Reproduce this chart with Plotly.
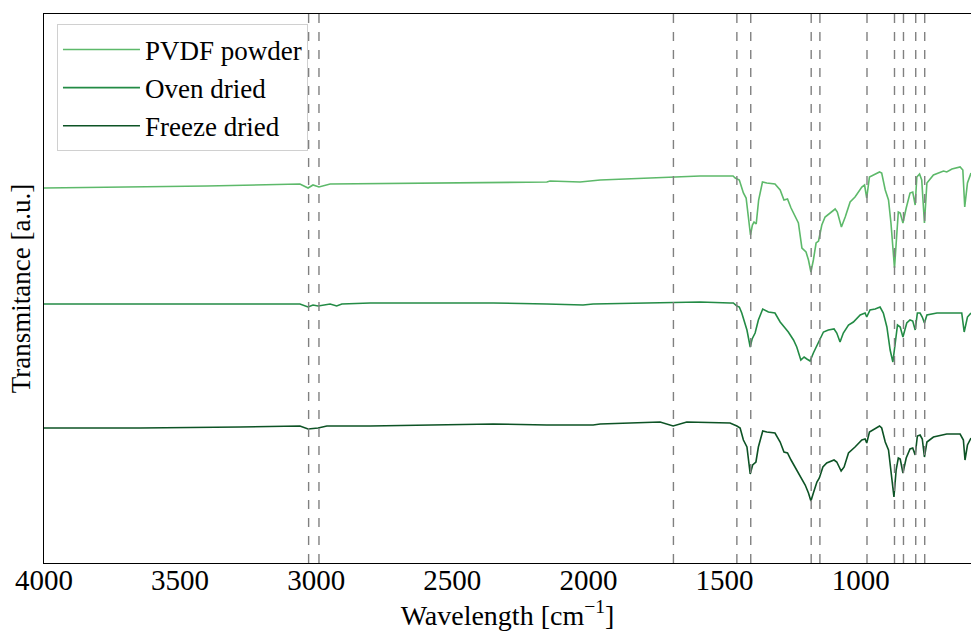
import plotly.graph_objects as go

# Wavenumbers [cm^-1] and transmittance [a.u.]
wn_pvdf = [4000, 3647, 3402, 3060, 3030, 3012, 2990, 2949, 2350, 2153, 2141, 2031, 1957, 1689, 1590,
           1469, 1461, 1446, 1431, 1421, 1414, 1405, 1398, 1392, 1384, 1375, 1361, 1345, 1315, 1296,
           1282, 1269, 1256, 1241, 1229, 1216, 1201, 1192, 1183, 1174, 1164, 1155, 1143, 1131, 1112,
           1094, 1086, 1071, 1057, 1039, 1021, 996, 986, 978, 968, 953, 931, 923, 910, 898, 889, 876,
           867, 862, 855, 845, 833, 819, 809, 800, 794, 784, 776, 766, 757, 733, 696, 684, 665, 635,
           625, 618, 608, 595]
t_pvdf = [3.75, 3.76, 3.77, 3.79, 3.75, 3.78, 3.76, 3.79, 3.81, 3.81, 3.82, 3.81, 3.83, 3.86, 3.87,
          3.87, 3.85, 3.83, 3.70, 3.65, 3.50, 3.28, 3.38, 3.41, 3.39, 3.63, 3.81, 3.80, 3.79, 3.73,
          3.63, 3.64, 3.55, 3.46, 3.40, 3.15, 3.11, 3.03, 2.91, 3.03, 3.20, 3.22, 3.38, 3.46, 3.50,
          3.54, 3.51, 3.36, 3.46, 3.61, 3.66, 3.76, 3.78, 3.65, 3.86, 3.88, 3.91, 3.90, 3.73, 3.63, 3.40, 2.95,
          3.33, 3.51, 3.50, 3.40, 3.55, 3.70, 3.71, 3.58, 3.86, 3.89, 3.83, 3.40, 3.80, 3.88, 3.92, 3.91, 3.94, 3.96,
          3.93, 3.56, 3.80, 3.90]

wn_oven = [4000, 3647, 3060, 3030, 3012, 2993, 2949, 2925, 2906, 2802, 2350, 2153, 2020, 1983, 1689,
           1590, 1480, 1468, 1455, 1446, 1437, 1425, 1418, 1406, 1399, 1388, 1376, 1360, 1339, 1315,
           1296, 1278, 1266, 1247, 1235, 1220, 1208, 1198, 1186, 1174, 1155, 1137, 1119, 1098, 1088,
           1076, 1064, 1045, 1027, 1002, 984, 978, 966, 947, 929, 917, 904, 892, 882, 874, 865, 855,
           845, 831, 819, 809, 800, 792, 782, 774, 766, 757, 720, 684, 629, 620, 608, 595]
t_oven = [2.59, 2.59, 2.59, 2.56, 2.58, 2.57, 2.59, 2.57, 2.59, 2.60, 2.60, 2.59, 2.58, 2.59, 2.60,
          2.61, 2.60, 2.60, 2.57, 2.56, 2.50, 2.40, 2.33, 2.16, 2.24, 2.30, 2.43, 2.54, 2.51, 2.50,
          2.41, 2.35, 2.31, 2.23, 2.16, 2.03, 2.06, 2.04, 2.02, 2.10, 2.21, 2.31, 2.33, 2.34, 2.30,
          2.21, 2.30, 2.38, 2.41, 2.48, 2.50, 2.46, 2.53, 2.54, 2.56, 2.50, 2.36, 2.13, 2.01, 2.16, 2.38, 2.36,
          2.26, 2.40, 2.43, 2.42, 2.33, 2.50, 2.50, 2.46, 2.40, 2.48, 2.50, 2.50, 2.50, 2.31, 2.46, 2.50]

wn_freeze = [4000, 3647, 3280, 3060, 3030, 2993, 2961, 2802, 2350, 2153, 1983, 1957, 1737, 1689, 1639,
             1480, 1455, 1443, 1431, 1418, 1406, 1397, 1385, 1376, 1360, 1345, 1315, 1296, 1282, 1269,
             1256, 1241, 1223, 1204, 1192, 1183, 1174, 1161, 1152, 1139, 1125, 1098, 1088, 1072, 1061,
             1045, 1021, 996, 984, 978, 968, 947, 931, 923, 910, 898, 888, 878, 870, 862, 855, 845,
             833, 819, 809, 800, 792, 782, 774, 766, 757, 733, 684, 635, 623, 617, 608, 595]
t_freeze = [1.35, 1.35, 1.36, 1.37, 1.34, 1.35, 1.37, 1.37, 1.39, 1.38, 1.38, 1.39, 1.41, 1.37, 1.41,
            1.40, 1.37, 1.35, 1.23, 1.16, 0.89, 0.98, 1.01, 1.16, 1.32, 1.31, 1.30, 1.21, 1.11, 1.10,
            1.03, 0.96, 0.88, 0.78, 0.70, 0.62, 0.70, 0.81, 0.85, 0.96, 1.00, 1.03, 1.01, 0.92, 0.96,
            1.10, 1.16, 1.23, 1.24, 1.20, 1.31, 1.34, 1.37, 1.35, 1.21, 1.13, 0.90, 0.66, 0.93, 1.05, 1.04, 0.90,
            1.05, 1.14, 1.15, 1.08, 1.27, 1.28, 1.24, 1.06, 1.21, 1.26, 1.29, 1.29, 1.23, 1.03, 1.18, 1.25]

series_names = ["PVDF powder", "Oven dried", "Freeze dried"]
series_colors = ["#5db96a", "#238b45", "#0d5325"]

peak_lines = [3028, 2990, 1688, 1455, 1404, 1182, 1150, 977, 876, 843, 798, 765]

x_ticks = [4000, 3500, 3000, 2500, 2000, 1500, 1000]

FONT = "Liberation Serif, Times New Roman, serif"

fig = go.Figure()
for name, color, xs, ys in zip(series_names, series_colors,
                               [wn_pvdf, wn_oven, wn_freeze], [t_pvdf, t_oven, t_freeze]):
    fig.add_trace(go.Scatter(x=xs, y=ys, mode="lines", name=name,
                             line=dict(color=color, width=1.6)))

for p in peak_lines:
    fig.add_shape(type="line", xref="x", yref="paper", x0=p, x1=p, y0=0, y1=1,
                  line=dict(color="#808080", width=1.4, dash="dash"), layer="above")

fig.update_layout(
    width=971, height=637,
    margin=dict(l=44, r=0, t=14, b=74),
    paper_bgcolor="white", plot_bgcolor="white",
    font=dict(family=FONT, size=27, color="black"),
    showlegend=True,
    legend=dict(x=0.014, y=0.981, xanchor="left", yanchor="top",
                bgcolor="white", bordercolor="#d0d0d0", borderwidth=1,
                font=dict(family=FONT, size=27, color="black"),
                itemwidth=77, tracegroupgap=0),
    xaxis=dict(range=[4000, 595], tickvals=x_ticks,
               ticktext=[str(v) for v in x_ticks],
               ticks="", ticklabelstandoff=-9,
               showline=True, linecolor="black", linewidth=1.2, mirror=True,
               showgrid=False, zeroline=False,
               tickfont=dict(family=FONT, size=29, color="black"),
               title=dict(text="Wavelength [cm<sup>\u22121</sup>]", standoff=10,
                          font=dict(family=FONT, size=28, color="black")),
               automargin=False),
    yaxis=dict(range=[0, 5.49], showticklabels=False, ticks="",
               showline=True, linecolor="black", linewidth=1.2,
               showgrid=False, zeroline=False,
               title=dict(text="Transmitance [a.u.]", standoff=4,
                          font=dict(family=FONT, size=27, color="black")),
               automargin=False),
)

fig.write_html("out.html")
